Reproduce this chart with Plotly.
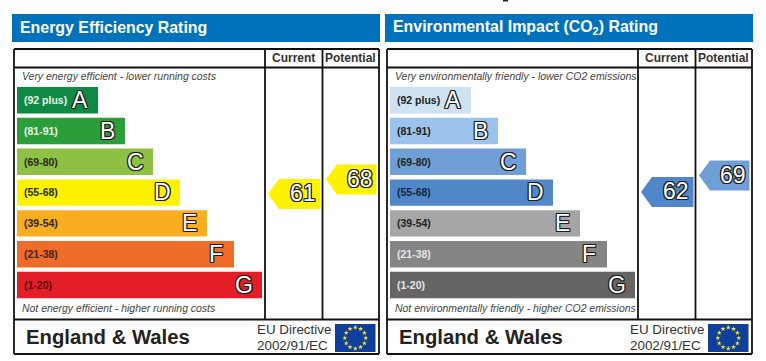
import math
import plotly.graph_objects as go

# ---------- data ----------
band_letters = ["A", "B", "C", "D", "E", "F", "G"]
band_ranges = ["(92 plus)", "(81-91)", "(69-80)", "(55-68)", "(39-54)", "(21-38)", "(1-20)"]
band_lengths = [81, 108, 136, 163, 190, 217, 245]

energy_title = "Energy Efficiency Rating"
energy_top_note = "Very energy efficient - lower running costs"
energy_bottom_note = "Not energy efficient - higher running costs"
energy_colors = ["#0f8a45", "#2b9e3a", "#8dc043", "#fff200", "#f9ae22", "#ee6c27", "#e31e26"]
energy_range_colors = ["#e8f5ec", "#e8f5ec", "#2a2a10", "#2a2a10", "#33240c", "#4a1f0c", "#5a0a10"]
energy_current = 61
energy_potential = 68
energy_arrow_colors = ["#fff200", "#fff200"]

env_title = "Environmental Impact (CO<sub>2</sub>) Rating"
env_top_note = "Very environmentally friendly - lower CO2 emissions"
env_bottom_note = "Not environmentally friendly - higher CO2 emissions"
env_colors = ["#cfe2f3", "#9cc3ec", "#6f9fd6", "#4f87c9", "#a6a6a6", "#858585", "#656565"]
env_range_colors = ["#222222", "#222222", "#222222", "#16263c", "#222222", "#e6e6e6", "#e6e6e6"]
env_current = 62
env_potential = 69
env_arrow_colors = ["#4f87c9", "#6f9fd6"]

FONT = "Liberation Sans"
OUTLINE = ("-1px 0 #1c1c1c,1px 0 #1c1c1c,0 -1px #1c1c1c,0 1px #1c1c1c,"
           "-1px -1px #1c1c1c,1px -1px #1c1c1c,-1px 1px #1c1c1c,1px 1px #1c1c1c")

fig = go.Figure()
shapes, notes = [], []


def label(x, y, text, size, color="#222", anchor="left", bold=False, italic=False, shadow=None):
    if bold:
        text = f"<b>{text}</b>"
    if italic:
        text = f"<i>{text}</i>"
    font = dict(family=FONT, size=size, color=color)
    if shadow:
        font["shadow"] = shadow
    notes.append(dict(x=x, y=y, xref="x", yref="y", text=text, showarrow=False,
                      xanchor=anchor, yanchor="middle", font=font, borderpad=0, borderwidth=0))


def line(x0, y0, x1, y1, width=2, color="#111"):
    shapes.append(dict(type="line", xref="x", yref="y", x0=x0, y0=y0, x1=x1, y1=y1,
                       line=dict(color=color, width=width), layer="above"))


def panel(ox, title, top, bottom, colors, range_colors, current, potential, arrow_colors, arrow_scale):
    # header
    shapes.append(dict(type="rect", xref="x", yref="y", x0=ox + 12, x1=ox + 380, y0=14, y1=42,
                       fillcolor="#0072bc", line_width=0, layer="below"))
    label(ox + 19.5, 27, title, 15.9, "#ffffff", bold=True)

    # bars
    tops = [87 + i * 30.8 for i in range(7)]
    fig.add_trace(go.Bar(
        orientation="h",
        x=band_lengths,
        y=[t + 13.2 for t in tops],
        base=ox + 17,
        width=26.4,
        marker=dict(color=colors, line_width=0),
        hoverinfo="skip",
    ))
    for i, t in enumerate(tops):
        end = ox + 17 + band_lengths[i]
        label(ox + 23.5, t + 13, band_ranges[i], 10.5, range_colors[i], bold=True)
        label(end - 18, t + 13, band_letters[i], 23, "#ffffff", anchor="center", shadow=OUTLINE)

    # frame
    for (a, b, c, d) in [(14, 49, 379, 49), (14, 354, 379, 354), (14, 49, 14, 354), (379, 49, 379, 354),
                         (14, 67.5, 379, 67.5), (14, 319.5, 379, 319.5),
                         (265, 49, 265, 319.5), (322.5, 49, 322.5, 319.5)]:
        line(ox + a, b, ox + c, d, 1.8)
    label(ox + 293.5, 58, "Current", 12, "#333", anchor="center", bold=True)
    label(ox + 350.5, 58, "Potential", 12, "#333", anchor="center", bold=True)
    label(ox + 22, 76.5, top, 10.45, "#444", italic=True)
    label(ox + 22, 308, bottom, 10.45, "#444", italic=True)

    # rating arrows, placed vertically from their values
    a, b = arrow_scale
    for value, x0, x1, col in [(current, 268, 320.5, arrow_colors[0]), (potential, 326, 376.5, arrow_colors[1])]:
        yc = a - b * value
        xs = [ox + x0, ox + x0 + 11, ox + x1, ox + x1, ox + x0 + 11, ox + x0]
        ys = [yc, yc - 15, yc - 15, yc + 15, yc + 15, yc]
        fig.add_trace(go.Scatter(x=xs, y=ys, mode="lines", fill="toself", fillcolor=col,
                                 line=dict(width=0, color=col), hoverinfo="skip"))
        label(ox + (x0 + x1) / 2 + 8.5, yc - 1, str(value), 23, "#ffffff", anchor="center", shadow=OUTLINE)

    # footer
    label(ox + 25.5, 336.5, "England &amp; Wales", 20.3, "#222", bold=True)
    label(ox + 257, 329, "EU Directive", 13.4, "#333")
    label(ox + 257, 345.5, "2002/91/EC", 13.4, "#333")
    shapes.append(dict(type="rect", xref="x", yref="y", x0=ox + 335, x1=ox + 375.5, y0=324, y1=352,
                       fillcolor="#103f9b", line_width=0, layer="below"))
    stars = [(ox + 355.3 + 10.5 * math.sin(k * math.pi / 6), 338 - 10.5 * math.cos(k * math.pi / 6))
             for k in range(12)]
    fig.add_trace(go.Scatter(x=[s[0] for s in stars], y=[s[1] for s in stars], mode="markers",
                             marker=dict(symbol="star", size=3.8, color="#f5e23a", line_width=0),
                             hoverinfo="skip", cliponaxis=False))


panel(0, energy_title, energy_top_note, energy_bottom_note, energy_colors, energy_range_colors,
      energy_current, energy_potential, energy_arrow_colors, (320.3, 2.07))
panel(373, env_title, env_top_note, env_bottom_note, env_colors, env_range_colors,
      env_current, env_potential, env_arrow_colors, (338.2, 2.357))

# small dark fragment cut off by the top edge of the picture
shapes.append(dict(type="rect", xref="x", yref="y", x0=503, x1=508, y0=0, y1=1.5,
                   fillcolor="#222222", line_width=0, layer="above"))

fig.update_layout(
    width=766, height=361,
    margin=dict(l=0, r=0, t=0, b=0),
    paper_bgcolor="#ffffff", plot_bgcolor="#ffffff",
    showlegend=False, barmode="overlay",
    xaxis=dict(range=[0, 766], visible=False, fixedrange=True),
    yaxis=dict(range=[361, 0], visible=False, fixedrange=True),
    shapes=shapes, annotations=notes,
)
fig.write_html("out.html", config=dict(displayModeBar=False),
               post_script="document.body.style.margin='0';document.body.style.overflow='hidden';")
